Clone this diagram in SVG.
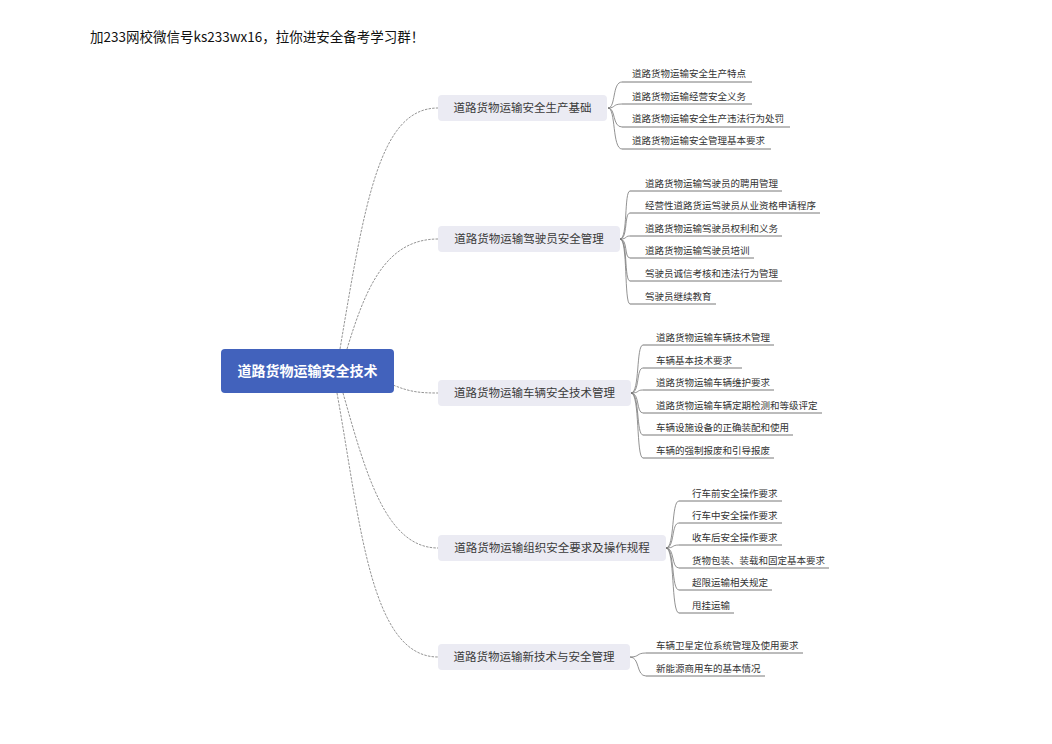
<svg xmlns="http://www.w3.org/2000/svg" width="1052" height="744" viewBox="0 0 1052 744">
<style>
text{font-family:"Noto Sans CJK SC","Noto Sans",sans-serif;}
.title{font-size:13.5px;fill:#111;}
.root{font-size:14px;font-weight:bold;fill:#ffffff;}
.br{fill:#ebebf3;}
.brt{font-size:11.5px;fill:#3a3a3a;}
.lf{font-size:9.5px;fill:#333;}
.ul{stroke:#555;stroke-width:0.8;fill:none;}
.mc{stroke:#888;stroke-width:0.9;fill:none;stroke-dasharray:2.5 1.2;}
.lc{stroke:#777;stroke-width:0.8;fill:none;}
</style>
<rect width="1052" height="744" fill="#ffffff"/>
<text class="title" x="90" y="42">加233网校微信号ks233wx16，拉你进安全备考学习群！</text>

<g id="connectors">
<path class="mc" d="M340,349 C365,200 380,108 438,108"/>
<path class="mc" d="M347,349 C365,290 385,239 438,239"/>
<path class="mc" d="M393,385 C410,392 420,393 438,393"/>
<path class="mc" d="M343,393 C365,470 385,548 438,548"/>
<path class="mc" d="M337,393 C360,520 370,657 438,657"/>
<!-- group 1 -->
<path class="lc" d="M608,108 C616,108 612,82 622,82"/>
<path class="lc" d="M608,108 C616,108 612,104 622,104"/>
<path class="lc" d="M608,108 C616,108 612,127 622,127"/>
<path class="lc" d="M608,108 C616,108 612,149 622,149"/>
<!-- group 2 -->
<path class="lc" d="M620,239 C628,239 624,191 630,191"/>
<path class="lc" d="M620,239 C628,239 624,213 630,213"/>
<path class="lc" d="M620,239 C628,239 624,236 630,236"/>
<path class="lc" d="M620,239 C628,239 624,258 630,258"/>
<path class="lc" d="M620,239 C628,239 624,281 630,281"/>
<path class="lc" d="M620,239 C628,239 624,304 630,304"/>
<!-- group 3 -->
<path class="lc" d="M631,393 C640,393 636,345 643,345"/>
<path class="lc" d="M631,393 C640,393 636,368 643,368"/>
<path class="lc" d="M631,393 C640,393 636,390 643,390"/>
<path class="lc" d="M631,393 C640,393 636,413 643,413"/>
<path class="lc" d="M631,393 C640,393 636,435 643,435"/>
<path class="lc" d="M631,393 C640,393 636,458 643,458"/>
<!-- group 4 -->
<path class="lc" d="M666,548 C675,548 671,501 679,501"/>
<path class="lc" d="M666,548 C675,548 671,523 679,523"/>
<path class="lc" d="M666,548 C675,548 671,545 679,545"/>
<path class="lc" d="M666,548 C675,548 671,568 679,568"/>
<path class="lc" d="M666,548 C675,548 671,590 679,590"/>
<path class="lc" d="M666,548 C675,548 671,613 679,613"/>
<!-- group 5 -->
<path class="lc" d="M630,657 C640,657 636,653 646,653"/>
<path class="lc" d="M630,657 C640,657 636,676 646,676"/>
</g>

<g id="root">
<rect x="221" y="349" width="173" height="44" rx="4" fill="#4262bc"/>
<text class="root" x="307.5" y="376" text-anchor="middle">道路货物运输安全技术</text>
</g>

<g id="b1">
<rect class="br" x="438" y="95" width="169" height="26" rx="4"/>
<text class="brt" x="522.5" y="112" text-anchor="middle">道路货物运输安全生产基础</text>
</g>
<g id="b2">
<rect class="br" x="438" y="226" width="182" height="26" rx="4"/>
<text class="brt" x="529" y="243" text-anchor="middle">道路货物运输驾驶员安全管理</text>
</g>
<g id="b3">
<rect class="br" x="438" y="380" width="193" height="26" rx="4"/>
<text class="brt" x="534.5" y="397" text-anchor="middle">道路货物运输车辆安全技术管理</text>
</g>
<g id="b4">
<rect class="br" x="438" y="535" width="228" height="26" rx="4"/>
<text class="brt" x="552" y="552" text-anchor="middle">道路货物运输组织安全要求及操作规程</text>
</g>
<g id="b5">
<rect class="br" x="438" y="644" width="192" height="26" rx="4"/>
<text class="brt" x="534" y="661" text-anchor="middle">道路货物运输新技术与安全管理</text>
</g>

<g id="l1-1"><text class="lf" x="632" y="76.5">道路货物运输安全生产特点</text><line class="ul" x1="622" y1="82" x2="752" y2="82"/></g>
<g id="l1-2"><text class="lf" x="632" y="99.5">道路货物运输经营安全义务</text><line class="ul" x1="622" y1="104" x2="752" y2="104"/></g>
<g id="l1-3"><text class="lf" x="632" y="121.5">道路货物运输安全生产违法行为处罚</text><line class="ul" x1="622" y1="127" x2="790" y2="127"/></g>
<g id="l1-4"><text class="lf" x="632" y="143.5">道路货物运输安全管理基本要求</text><line class="ul" x1="622" y1="149" x2="771" y2="149"/></g>

<g id="l2-1"><text class="lf" x="645" y="186.5">道路货物运输驾驶员的聘用管理</text><line class="ul" x1="630" y1="191" x2="782" y2="191"/></g>
<g id="l2-2"><text class="lf" x="645" y="208.5">经营性道路货运驾驶员从业资格申请程序</text><line class="ul" x1="630" y1="213" x2="820" y2="213"/></g>
<g id="l2-3"><text class="lf" x="645" y="231.5">道路货物运输驾驶员权利和义务</text><line class="ul" x1="630" y1="236" x2="782" y2="236"/></g>
<g id="l2-4"><text class="lf" x="645" y="253.5">道路货物运输驾驶员培训</text><line class="ul" x1="630" y1="258" x2="754" y2="258"/></g>
<g id="l2-5"><text class="lf" x="645" y="276.5">驾驶员诚信考核和违法行为管理</text><line class="ul" x1="630" y1="281" x2="782" y2="281"/></g>
<g id="l2-6"><text class="lf" x="645" y="299.5">驾驶员继续教育</text><line class="ul" x1="630" y1="304" x2="716" y2="304"/></g>

<g id="l3-1"><text class="lf" x="656" y="340.5">道路货物运输车辆技术管理</text><line class="ul" x1="643" y1="345" x2="774" y2="345"/></g>
<g id="l3-2"><text class="lf" x="656" y="363.5">车辆基本技术要求</text><line class="ul" x1="643" y1="368" x2="742" y2="368"/></g>
<g id="l3-3"><text class="lf" x="656" y="385.5">道路货物运输车辆维护要求</text><line class="ul" x1="643" y1="390" x2="774" y2="390"/></g>
<g id="l3-4"><text class="lf" x="656" y="408.5">道路货物运输车辆定期检测和等级评定</text><line class="ul" x1="643" y1="413" x2="822" y2="413"/></g>
<g id="l3-5"><text class="lf" x="656" y="430.5">车辆设施设备的正确装配和使用</text><line class="ul" x1="643" y1="435" x2="793" y2="435"/></g>
<g id="l3-6"><text class="lf" x="656" y="453.5">车辆的强制报废和引导报废</text><line class="ul" x1="643" y1="458" x2="774" y2="458"/></g>

<g id="l4-1"><text class="lf" x="692" y="496.5">行车前安全操作要求</text><line class="ul" x1="679" y1="501" x2="782" y2="501"/></g>
<g id="l4-2"><text class="lf" x="692" y="518.5">行车中安全操作要求</text><line class="ul" x1="679" y1="523" x2="782" y2="523"/></g>
<g id="l4-3"><text class="lf" x="692" y="540.5">收车后安全操作要求</text><line class="ul" x1="679" y1="545" x2="782" y2="545"/></g>
<g id="l4-4"><text class="lf" x="692" y="563.5">货物包装、装载和固定基本要求</text><line class="ul" x1="679" y1="568" x2="829" y2="568"/></g>
<g id="l4-5"><text class="lf" x="692" y="585.5">超限运输相关规定</text><line class="ul" x1="679" y1="590" x2="772" y2="590"/></g>
<g id="l4-6"><text class="lf" x="692" y="608.5">甩挂运输</text><line class="ul" x1="679" y1="613" x2="734" y2="613"/></g>

<g id="l5-1"><text class="lf" x="656" y="648.5">车辆卫星定位系统管理及使用要求</text><line class="ul" x1="646" y1="653" x2="803" y2="653"/></g>
<g id="l5-2"><text class="lf" x="656" y="671.5">新能源商用车的基本情况</text><line class="ul" x1="646" y1="676" x2="765" y2="676"/></g>
</svg>
